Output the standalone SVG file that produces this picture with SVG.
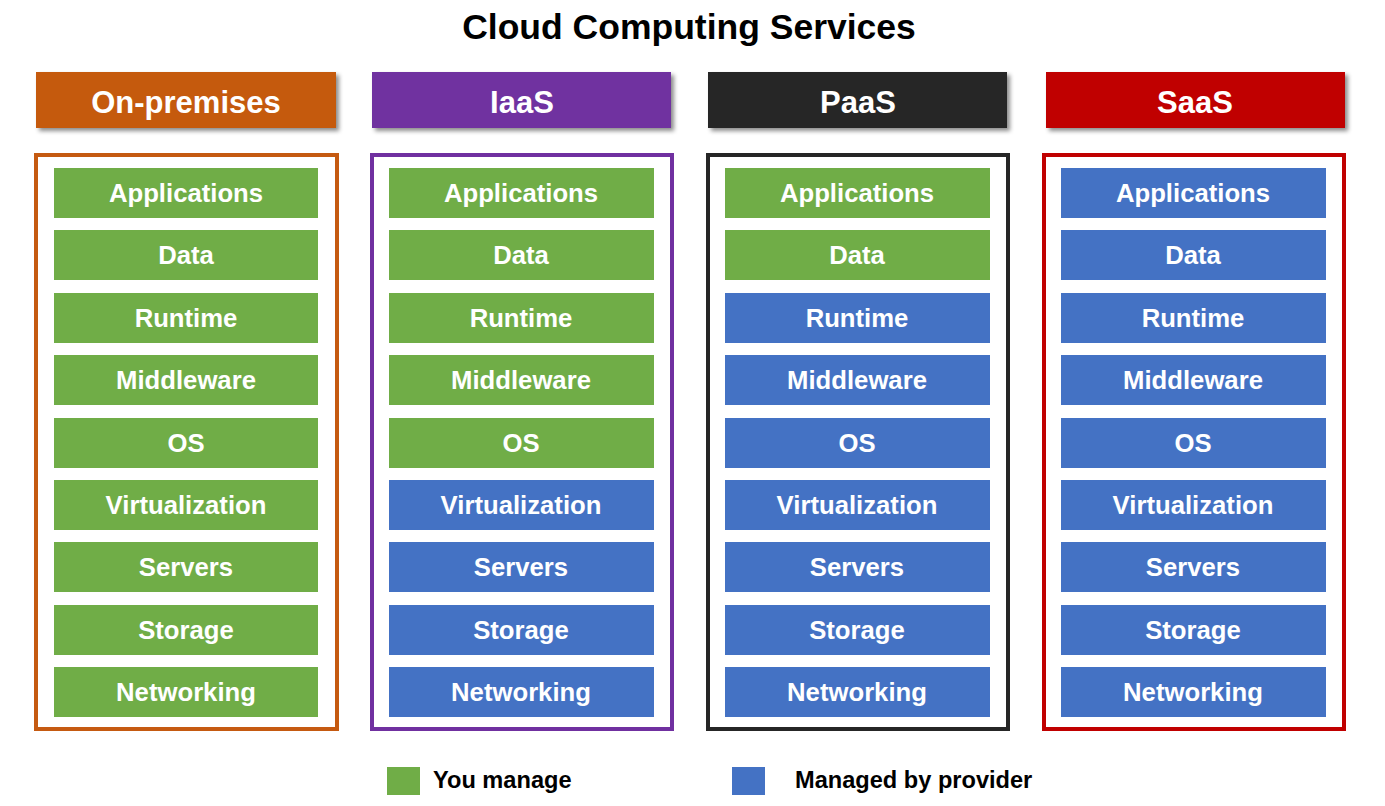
<svg xmlns="http://www.w3.org/2000/svg" width="1385" height="806" viewBox="0 0 1385 806">
<defs>
<filter id="sh" x="-5%" y="-20%" width="115%" height="160%">
<feDropShadow dx="3" dy="3" stdDeviation="2" flood-color="#000" flood-opacity="0.45"/>
</filter>
</defs>
<style>
text{font-family:"Liberation Sans",Arial,sans-serif;font-weight:bold;text-anchor:middle}
.title{font-size:35.5px;fill:#000}
.hd{font-size:31px;fill:#fff}
.it{font-size:25.7px;fill:#fff}
.lg{font-size:23.6px;fill:#000;text-anchor:start}
.g{fill:#70AD47}
.b{fill:#4472C4}
.col{fill:#fff;stroke-width:4}
</style>
<rect width="1385" height="806" fill="#fff"/>
<text class="title" x="689" y="38.5">Cloud Computing Services</text>

<g id="onprem">
<rect x="36" y="72" width="300" height="56" fill="#C55A11" filter="url(#sh)"/>
<text class="hd" x="186" y="113">On-premises</text>
<rect class="col" x="36" y="155" width="301" height="574" stroke="#C55A11"/>
<rect class="g" x="54" y="168" width="264" height="50"/><text class="it" x="186" y="202">Applications</text>
<rect class="g" x="54" y="230" width="264" height="50"/><text class="it" x="186" y="264">Data</text>
<rect class="g" x="54" y="293" width="264" height="50"/><text class="it" x="186" y="327">Runtime</text>
<rect class="g" x="54" y="355" width="264" height="50"/><text class="it" x="186" y="389">Middleware</text>
<rect class="g" x="54" y="418" width="264" height="50"/><text class="it" x="186" y="452">OS</text>
<rect class="g" x="54" y="480" width="264" height="50"/><text class="it" x="186" y="514">Virtualization</text>
<rect class="g" x="54" y="542" width="264" height="50"/><text class="it" x="186" y="576">Servers</text>
<rect class="g" x="54" y="605" width="264" height="50"/><text class="it" x="186" y="639">Storage</text>
<rect class="g" x="54" y="667" width="264" height="50"/><text class="it" x="186" y="701">Networking</text>
</g>

<g id="iaas">
<rect x="372" y="72" width="299" height="56" fill="#7030A0" filter="url(#sh)"/>
<text class="hd" x="522" y="113">IaaS</text>
<rect class="col" x="372" y="155" width="300" height="574" stroke="#7030A0"/>
<rect class="g" x="389" y="168" width="265" height="50"/><text class="it" x="521" y="202">Applications</text>
<rect class="g" x="389" y="230" width="265" height="50"/><text class="it" x="521" y="264">Data</text>
<rect class="g" x="389" y="293" width="265" height="50"/><text class="it" x="521" y="327">Runtime</text>
<rect class="g" x="389" y="355" width="265" height="50"/><text class="it" x="521" y="389">Middleware</text>
<rect class="g" x="389" y="418" width="265" height="50"/><text class="it" x="521" y="452">OS</text>
<rect class="b" x="389" y="480" width="265" height="50"/><text class="it" x="521" y="514">Virtualization</text>
<rect class="b" x="389" y="542" width="265" height="50"/><text class="it" x="521" y="576">Servers</text>
<rect class="b" x="389" y="605" width="265" height="50"/><text class="it" x="521" y="639">Storage</text>
<rect class="b" x="389" y="667" width="265" height="50"/><text class="it" x="521" y="701">Networking</text>
</g>

<g id="paas">
<rect x="708" y="72" width="299" height="56" fill="#262626" filter="url(#sh)"/>
<text class="hd" x="858" y="113">PaaS</text>
<rect class="col" x="708" y="155" width="300" height="574" stroke="#262626"/>
<rect class="g" x="725" y="168" width="265" height="50"/><text class="it" x="857" y="202">Applications</text>
<rect class="g" x="725" y="230" width="265" height="50"/><text class="it" x="857" y="264">Data</text>
<rect class="b" x="725" y="293" width="265" height="50"/><text class="it" x="857" y="327">Runtime</text>
<rect class="b" x="725" y="355" width="265" height="50"/><text class="it" x="857" y="389">Middleware</text>
<rect class="b" x="725" y="418" width="265" height="50"/><text class="it" x="857" y="452">OS</text>
<rect class="b" x="725" y="480" width="265" height="50"/><text class="it" x="857" y="514">Virtualization</text>
<rect class="b" x="725" y="542" width="265" height="50"/><text class="it" x="857" y="576">Servers</text>
<rect class="b" x="725" y="605" width="265" height="50"/><text class="it" x="857" y="639">Storage</text>
<rect class="b" x="725" y="667" width="265" height="50"/><text class="it" x="857" y="701">Networking</text>
</g>

<g id="saas">
<rect x="1046" y="72" width="299" height="56" fill="#C00000" filter="url(#sh)"/>
<text class="hd" x="1195" y="113">SaaS</text>
<rect class="col" x="1044" y="155" width="300" height="574" stroke="#C00000"/>
<rect class="b" x="1061" y="168" width="265" height="50"/><text class="it" x="1193" y="202">Applications</text>
<rect class="b" x="1061" y="230" width="265" height="50"/><text class="it" x="1193" y="264">Data</text>
<rect class="b" x="1061" y="293" width="265" height="50"/><text class="it" x="1193" y="327">Runtime</text>
<rect class="b" x="1061" y="355" width="265" height="50"/><text class="it" x="1193" y="389">Middleware</text>
<rect class="b" x="1061" y="418" width="265" height="50"/><text class="it" x="1193" y="452">OS</text>
<rect class="b" x="1061" y="480" width="265" height="50"/><text class="it" x="1193" y="514">Virtualization</text>
<rect class="b" x="1061" y="542" width="265" height="50"/><text class="it" x="1193" y="576">Servers</text>
<rect class="b" x="1061" y="605" width="265" height="50"/><text class="it" x="1193" y="639">Storage</text>
<rect class="b" x="1061" y="667" width="265" height="50"/><text class="it" x="1193" y="701">Networking</text>
</g>

<g id="legend">
<rect class="g" x="387" y="767" width="33" height="28"/>
<text class="lg" x="433" y="788">You manage</text>
<rect class="b" x="732" y="767" width="33" height="28"/>
<text class="lg" x="795" y="788">Managed by provider</text>
</g>
<g id="connectors"/>
</svg>
